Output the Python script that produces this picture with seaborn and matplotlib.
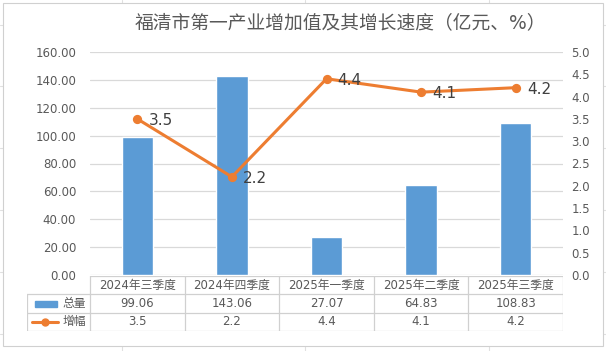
import numpy as np
import pandas as pd
import seaborn as sns
import matplotlib.pyplot as plt
from matplotlib.lines import Line2D
from matplotlib.patches import Rectangle

sns.set_style("white")
plt.rcParams['font.family'] = ['DejaVu Sans', 'Noto Sans CJK SC']

# %% Data

quarters = ['2024年三季度', '2024年四季度', '2025年一季度', '2025年二季度', '2025年三季度']
total = [99.06, 143.06, 27.07, 64.83, 108.83]
growth = [3.5, 2.2, 4.4, 4.1, 4.2]
title = '福清市第一产业增加值及其增长速度（亿元、%）'

df = pd.DataFrame({'季度': quarters, '总量': total, '增幅': growth})

blue = '#5B9BD5'
orange = '#ED7D31'
text_c = '#595959'
grid_c = '#D9D9D9'

# %% Plot

W, H = 606, 351
fig = plt.figure(figsize=(W / 100, H / 100), dpi=100)

# spreadsheet cells behind the chart + chart frame
for x in [122, 305, 489]:
    fig.add_artist(Line2D([x / W, x / W], [0, 1], color='#E0E0E0', lw=0.8, zorder=0.1))
for y in [25, 86, 148, 210, 272, 334]:
    fig.add_artist(Line2D([0, 1], [1 - y / H, 1 - y / H], color='#E0E0E0', lw=0.8, zorder=0.1))
fig.add_artist(Rectangle((3 / W, 1 - 346 / H), 600 / W, 343 / H, facecolor='white',
                         edgecolor='#D0D0D0', lw=0.8, zorder=0.2))

x0, x1, y0, y1 = 90, 563, 52, 275
ax = fig.add_axes([x0 / W, 1 - y1 / H, (x1 - x0) / W, (y1 - y0) / H])
ax.set_zorder(2)
ax.patch.set_alpha(0)

sns.barplot(data=df, x='季度', y='总量', color=blue, width=0.33, saturation=1, ax=ax, zorder=2)
ax.set_ylim(0, 160)
ax.set_yticks(np.arange(0, 161, 20))
ax.set_yticklabels([f'{v:.2f}' for v in np.arange(0, 161, 20)], color=text_c, fontsize=8.5)
ax.yaxis.grid(True, color=grid_c, lw=0.9)
ax.set_axisbelow(True)
ax.set_xlim(-0.5, 4.5)
ax.set_xticks([])
ax.set_xlabel('')
ax.set_ylabel('')
ax.tick_params(axis='y', length=0, pad=10)
sns.despine(ax=ax, left=True, right=True, top=True, bottom=True)

ax2 = ax.twinx()
ax2.patch.set_alpha(0)
sns.pointplot(data=df, x='季度', y='增幅', color=orange, ax=ax2,
              markersize=5, linewidth=2.2, zorder=3)
ax2.set_ylim(0, 5)
ax2.set_yticks(np.arange(0, 5.01, 0.5))
ax2.set_yticklabels([f'{v:.1f}' for v in np.arange(0, 5.01, 0.5)], color=text_c, fontsize=8.5)
ax2.tick_params(axis='y', length=0, pad=6)
ax2.set_xlim(-0.5, 4.5)
ax2.set_xlabel('')
ax2.set_ylabel('')
for s in ax2.spines.values():
    s.set_visible(False)
for i, v in enumerate(growth):
    ax2.annotate(f'{v}', (i, v), xytext=(8, -1), textcoords='offset points',
                 ha='left', va='center', fontsize=11, color='#404040')

fig.text(340 / W, 1 - 23 / H, title, ha='center', va='center', fontsize=13.5, color=text_c)

# %% Data table

t_left, t_top, t_bot = 27, 276, 331
tab = fig.add_axes([t_left / W, 1 - t_bot / H, (x1 - t_left) / W, (t_bot - t_top) / H])
tab.set_zorder(1)
tab.patch.set_alpha(0)
col_w = (x1 - x0) / 5
lead = (x0 - t_left) / col_w
tab.set_xlim(-0.5 - lead, 4.5)
tab.set_ylim(3, 0)
tab.axis('off')
lc = '#D0D0D0'
tab.plot([-0.5, 4.5], [0, 0], color=lc, lw=0.9)
for r in [1, 2, 3]:
    tab.plot([-0.5 - lead, 4.5], [r, r], color=lc, lw=0.9)
for c in np.arange(-0.5, 4.6, 1):
    tab.plot([c, c], [0, 3], color=lc, lw=0.9)
tab.plot([-0.5 - lead, -0.5 - lead], [1, 3], color=lc, lw=0.9)

for i, q in enumerate(quarters):
    tab.text(i, 0.5, q, ha='center', va='center', fontsize=8.5, color=text_c)
    tab.text(i, 1.5, f'{total[i]:.2f}', ha='center', va='center', fontsize=8.5, color=text_c)
    tab.text(i, 2.5, f'{growth[i]}', ha='center', va='center', fontsize=8.5, color=text_c)

lx = -0.5 - lead
tab.add_patch(Rectangle((lx + 0.08, 1.35), 0.24, 0.32, color=blue))
tab.text(lx + 0.38, 1.5, '总量', ha='left', va='center', fontsize=8.5, color=text_c)
tab.plot([lx + 0.05, lx + 0.33], [2.5, 2.5], color=orange, lw=2.2)
tab.plot([lx + 0.19], [2.5], 'o', color=orange, ms=5)
tab.text(lx + 0.38, 2.5, '增幅', ha='left', va='center', fontsize=8.5, color=text_c)

plt.savefig('out.png', dpi=100)
